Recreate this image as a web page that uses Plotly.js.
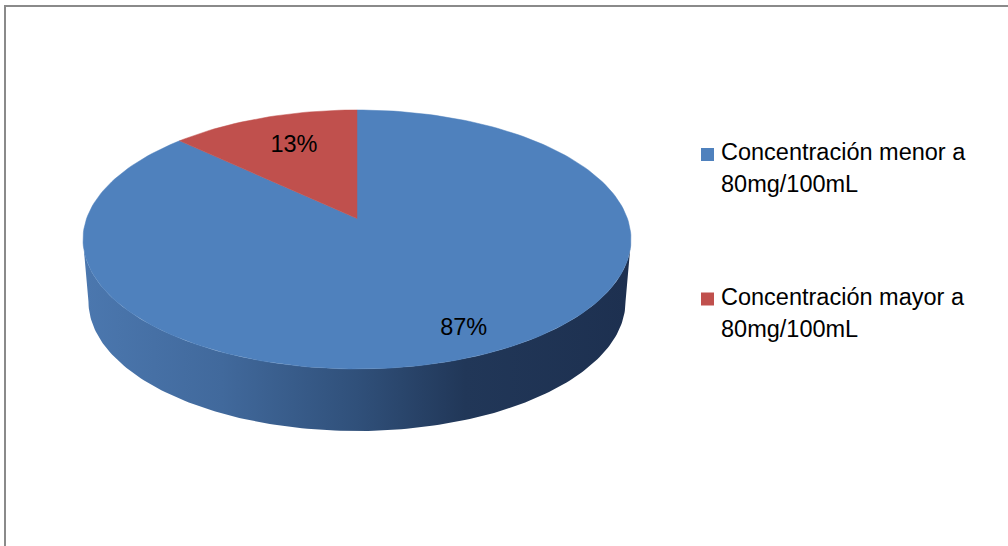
<!DOCTYPE html>
<html>
<head>
<meta charset="utf-8">
<script src="https://cdn.plot.ly/plotly-3.0.1.min.js"></script>
<style>
  html, body { margin: 0; padding: 0; background: #ffffff; }
  #chart { width: 1008px; height: 546px; }
</style>
</head>
<body>
<div id="chart"></div>
<script>
// Series data
const categories = ['Concentración menor a 80mg/100mL', 'Concentración mayor a 80mg/100mL'];
const values = [87, 13];
const topColors = ['#4f81bd', '#c0504d'];
const sideColorscale = [
  [0.00, '#4b77ae'],
  [0.25, '#41699c'],
  [0.50, '#30507a'],
  [0.70, '#213758'],
  [1.00, '#1d3050']
];

// Page / pie geometry (pixels)
const W = 1008, H = 546;
const CX = 357, CY = 218.5;     // pie apex on screen
const RPX = 270.4;              // disc radius
const TILT = 0.4664;            // vertical squash of the tilted disc
const PERSP = 0.162;            // perspective strength (far side shrinks)
const DEPTH = 62 / RPX;         // thickness of the pie
const BOTTOM_SCALE = 0.98;      // lower rim is slightly narrower
const LABEL_R = 0.78;
const LABEL_SHIFT = [12 / RPX, -9 / RPX];
const FONT = '"Liberation Sans", Arial, sans-serif';
const FONT_SIZE = 23.5;

// Perspective projection of a point (u, v) on the disc; v > 0 is the far side
function proj(u, v) {
  const d = 1 + PERSP * v;
  return [u / d, TILT * v / d];
}

const total = values.reduce((a, b) => a + b, 0);
const deg = Math.PI / 180;
const traces = [];

// Front wall of the pie (visible between the two silhouette tangents)
(function () {
  const a = Math.asin(PERSP);
  const t0 = Math.PI + a, t1 = 2 * Math.PI - a;
  const n = 160;
  const xs = [], ys = [];
  for (let i = 0; i <= n; i++) {
    const th = t0 + (t1 - t0) * i / n;
    const p = proj(Math.cos(th), Math.sin(th));
    xs.push(p[0]); ys.push(p[1]);
  }
  for (let i = n; i >= 0; i--) {
    const th = t0 + (t1 - t0) * i / n;
    const p = proj(Math.cos(th), Math.sin(th));
    xs.push(p[0] * BOTTOM_SCALE); ys.push(p[1] - DEPTH);
  }
  xs.push(xs[0]); ys.push(ys[0]);
  traces.push({
    type: 'scatter', mode: 'lines', x: xs, y: ys,
    fill: 'toself',
    fillgradient: { type: 'horizontal', colorscale: sideColorscale, start: -1.0, stop: 1.0 },
    line: { width: 0, color: 'rgba(0,0,0,0)' },
    hoverinfo: 'skip', showlegend: false
  });
})();

// Top face slices, starting at 12 o'clock and running clockwise
let start = 90;
const labelPos = [];
values.forEach((v, i) => {
  const sweep = v / total * 360;
  const end = start - sweep;
  const n = Math.max(8, Math.ceil(sweep / 1.5));
  const xs = [0], ys = [0];
  for (let j = 0; j <= n; j++) {
    const th = (start + (end - start) * j / n) * deg;
    const p = proj(Math.cos(th), Math.sin(th));
    xs.push(p[0]); ys.push(p[1]);
  }
  xs.push(0); ys.push(0);
  traces.push({
    type: 'scatter', mode: 'lines', x: xs, y: ys,
    fill: 'toself', fillcolor: topColors[i],
    line: { width: 0.5, color: topColors[i] },
    hoverinfo: 'skip', showlegend: false
  });
  const mid = (start + end) / 2 * deg;
  const p = proj(LABEL_R * Math.cos(mid), LABEL_R * Math.sin(mid));
  labelPos.push([p[0] + LABEL_SHIFT[0], p[1] + LABEL_SHIFT[1]]);
  start = end;
});

// Percentage labels
traces.push({
  type: 'scatter', mode: 'text',
  x: labelPos.map(p => p[0]), y: labelPos.map(p => p[1]),
  text: values.map(v => Math.round(v / total * 100) + '%'),
  textposition: 'middle center',
  textfont: { family: FONT, size: FONT_SIZE, color: '#000000' },
  hoverinfo: 'skip', showlegend: false
});

// Legend: swatch + two-line label per category
const px2x = x => x / W, py2y = y => 1 - y / H;
const legendTop = [148, 292.5];      // swatch top edge
const SW = 13;
const shapes = [
  // chart frame
  { type: 'rect', xref: 'paper', yref: 'paper',
    x0: px2x(5), x1: px2x(1015), y0: py2y(6), y1: py2y(560),
    line: { color: '#8a8a8a', width: 2 }, fillcolor: 'rgba(0,0,0,0)' }
];
const annotations = [];
categories.forEach((c, i) => {
  const top = legendTop[i];
  shapes.push({ type: 'rect', xref: 'paper', yref: 'paper',
    x0: px2x(701), x1: px2x(701 + SW), y0: py2y(top), y1: py2y(top + SW),
    line: { width: 0 }, fillcolor: topColors[i] });
  const words = c.split(' ');
  const lines = [words.slice(0, -1).join(' '), words[words.length - 1]];
  lines.forEach((ln, k) => {
    annotations.push({
      xref: 'paper', yref: 'paper',
      x: px2x(719), y: py2y(top + 4 + k * 32),
      xanchor: 'left', yanchor: 'middle',
      text: ln, showarrow: false,
      font: { family: FONT, size: FONT_SIZE, color: '#000000' }
    });
  });
});

const layout = {
  width: W, height: H,
  margin: { l: 0, r: 0, t: 0, b: 0, pad: 0 },
  paper_bgcolor: '#ffffff', plot_bgcolor: '#ffffff',
  xaxis: { range: [-CX / RPX, (W - CX) / RPX], visible: false, fixedrange: true },
  yaxis: { range: [-(H - CY) / RPX, CY / RPX], visible: false, fixedrange: true },
  showlegend: false,
  shapes: shapes,
  annotations: annotations
};

Plotly.newPlot('chart', traces, layout, { staticPlot: true, displayModeBar: false });
</script>
</body>
</html>
